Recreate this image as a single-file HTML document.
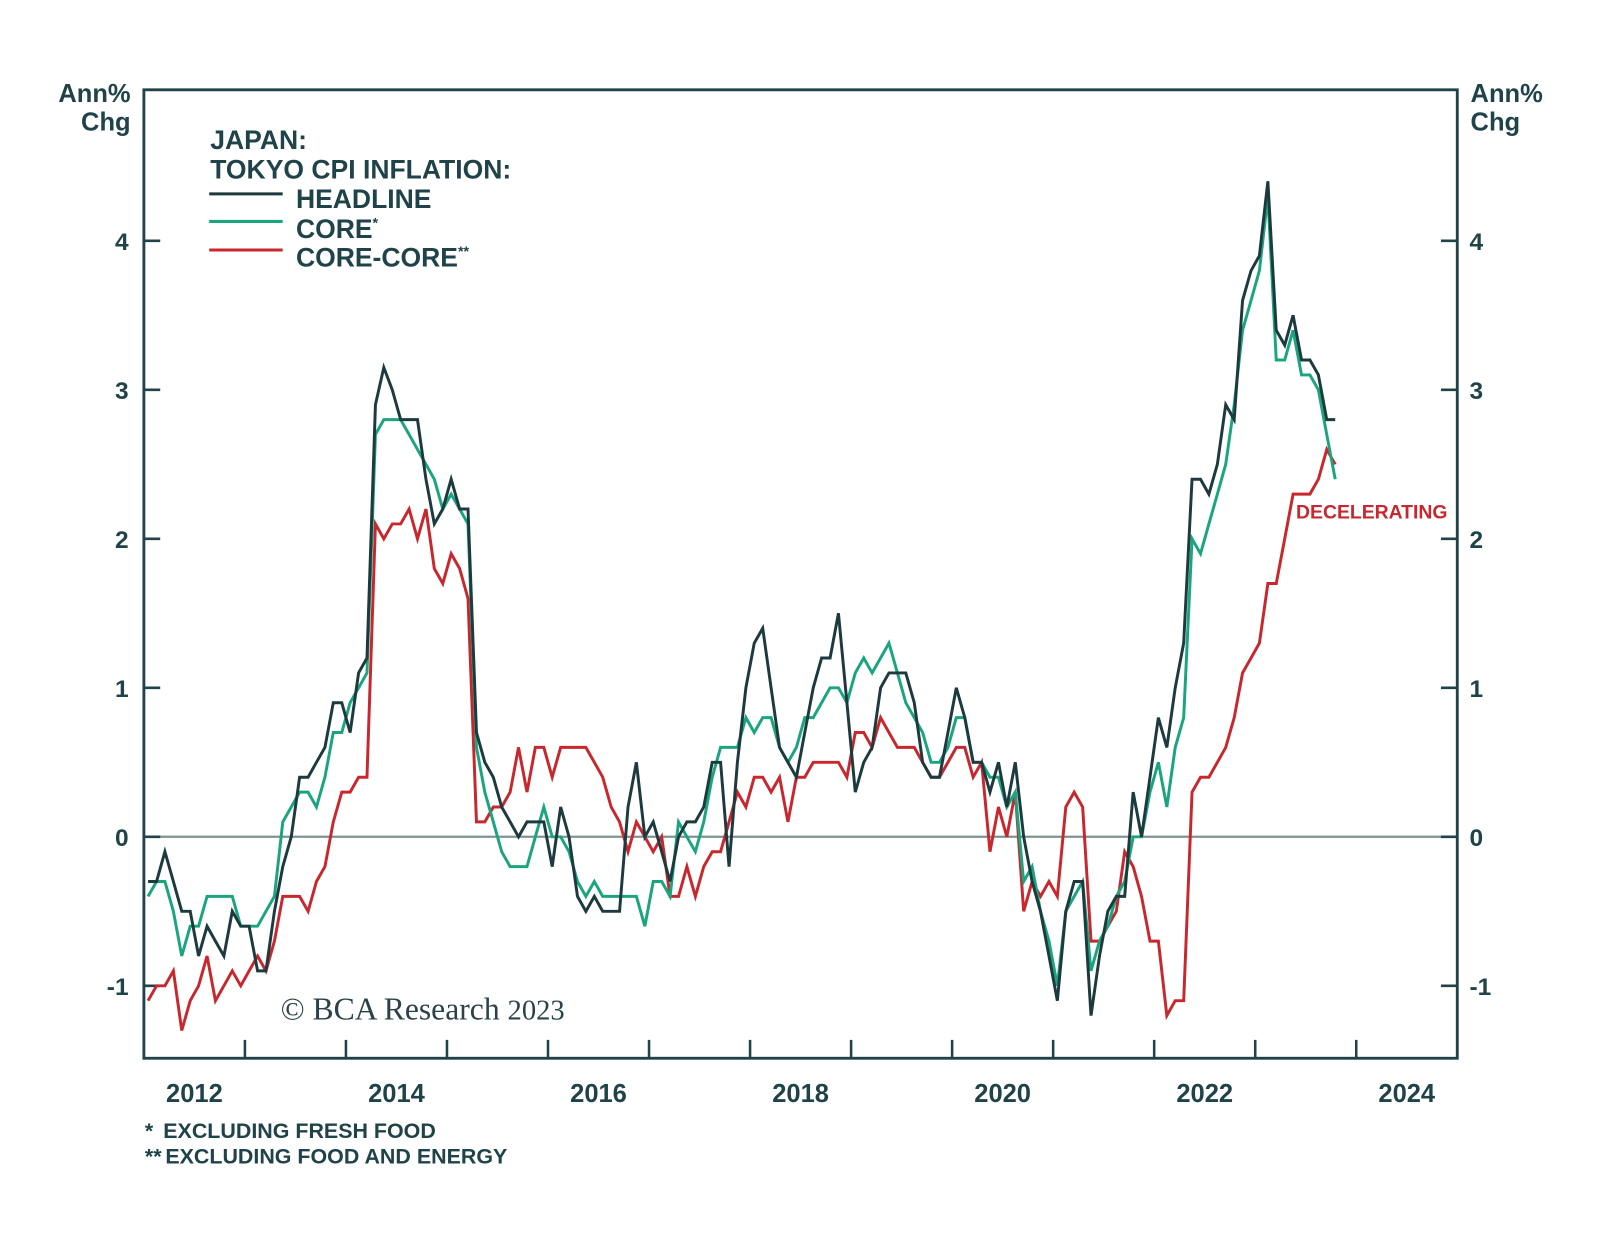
<!DOCTYPE html>
<html><head><meta charset="utf-8"><style>
html,body{margin:0;padding:0;background:#fff;}
svg{display:block;font-family:"Liberation Sans",sans-serif;}
</style></head><body>
<svg id="chart" width="1600" height="1237" viewBox="0 0 1600 1237" xmlns="http://www.w3.org/2000/svg">
<g transform="scale(1.0205)">
<g id="axes"></g>
<g id="series"></g>
<g id="labels" font-weight="bold" fill="#1f4349">
  <text x="128" y="100" font-size="25" text-anchor="end">Ann%</text>
  <text x="128" y="128" font-size="25" text-anchor="end">Chg</text>
  <text x="1441" y="100" font-size="25">Ann%</text>
  <text x="1441" y="128" font-size="25">Chg</text>
  <text x="206" y="146" font-size="26">JAPAN:</text>
  <text x="206" y="175" font-size="26">TOKYO CPI INFLATION:</text>
  <line x1="205" y1="190" x2="277" y2="190" stroke="#1d3a3f" stroke-width="3"/>
  <text x="290" y="204" font-size="26">HEADLINE</text>
  <line x1="205" y1="217" x2="277" y2="217" stroke="#1aa57f" stroke-width="3"/>
  <text x="290" y="233" font-size="26">CORE<tspan font-size="14" dy="-10">*</tspan></text>
  <line x1="205" y1="245" x2="277" y2="245" stroke="#c8282d" stroke-width="3"/>
  <text x="290" y="261" font-size="26">CORE-CORE<tspan font-size="14" dy="-10">**</tspan></text>
  <text x="1270" y="508" font-size="19" fill="#c8282d">DECELERATING</text>
  <text x="142" y="1115" font-size="21">* <tspan x="160">EXCLUDING FRESH FOOD</tspan></text>
  <text x="142" y="1140" font-size="21">** <tspan x="162">EXCLUDING FOOD AND ENERGY</tspan></text>
  <text x="275" y="999" font-size="31" font-weight="normal" font-family="Liberation Serif, serif" fill="#2a4248">© BCA Research <tspan font-size="28">2023</tspan></text>
</g>
</g>
</svg>
<script>
const yTicks = [-1, 0, 1, 2, 3, 4];
const yearLabels = [2012, 2014, 2016, 2018, 2020, 2022, 2024];
const headline = [-0.3,-0.3,-0.1,-0.3,-0.5,-0.5,-0.8,-0.6,-0.7,-0.8,-0.5,-0.6,
-0.6,-0.9,-0.9,-0.5,-0.2,0.0,0.4,0.4,0.5,0.6,0.9,0.9,
0.7,1.1,1.2,2.9,3.15,3.0,2.8,2.8,2.8,2.4,2.1,2.2,
2.4,2.2,2.2,0.7,0.5,0.4,0.2,0.1,0.0,0.1,0.1,0.1,
-0.2,0.2,0.0,-0.4,-0.5,-0.4,-0.5,-0.5,-0.5,0.2,0.5,0.0,
0.1,-0.1,-0.3,0.0,0.1,0.1,0.2,0.5,0.5,-0.2,0.5,1.0,
1.3,1.4,1.0,0.6,0.5,0.4,0.7,1.0,1.2,1.2,1.5,0.9,
0.3,0.5,0.6,1.0,1.1,1.1,1.1,0.9,0.5,0.4,0.4,0.7,
1.0,0.8,0.5,0.5,0.3,0.5,0.2,0.5,0.0,-0.3,-0.5,-0.8,
-1.1,-0.5,-0.3,-0.3,-1.2,-0.8,-0.5,-0.4,-0.4,0.3,0.0,0.4,
0.8,0.6,1.0,1.3,2.4,2.4,2.3,2.5,2.9,2.8,3.6,3.8,
3.9,4.4,3.4,3.3,3.5,3.2,3.2,3.1,2.8,2.8];
const core = [-0.4,-0.3,-0.3,-0.5,-0.8,-0.6,-0.6,-0.4,-0.4,-0.4,-0.4,-0.6,
-0.6,-0.6,-0.5,-0.4,0.1,0.2,0.3,0.3,0.2,0.4,0.7,0.7,
0.9,1.0,1.1,2.7,2.8,2.8,2.8,2.7,2.6,2.5,2.4,2.2,
2.3,2.2,2.1,0.6,0.3,0.1,-0.1,-0.2,-0.2,-0.2,0.0,0.2,
0.0,0.0,-0.1,-0.3,-0.4,-0.3,-0.4,-0.4,-0.4,-0.4,-0.4,-0.6,
-0.3,-0.3,-0.4,0.1,0.0,-0.1,0.1,0.4,0.6,0.6,0.6,0.8,
0.7,0.8,0.8,0.6,0.5,0.6,0.8,0.8,0.9,1.0,1.0,0.9,
1.1,1.2,1.1,1.2,1.3,1.1,0.9,0.8,0.7,0.5,0.5,0.6,
0.8,0.8,0.5,0.5,0.4,0.4,0.2,0.3,-0.3,-0.2,-0.5,-0.7,
-1.0,-0.5,-0.4,-0.3,-0.9,-0.7,-0.6,-0.4,-0.3,0.0,0.0,0.3,
0.5,0.2,0.6,0.8,2.0,1.9,2.1,2.3,2.5,2.9,3.4,3.6,
3.8,4.3,3.2,3.2,3.4,3.1,3.1,3.0,2.7,2.4];
const coreCore = [-1.1,-1.0,-1.0,-0.9,-1.3,-1.1,-1.0,-0.8,-1.1,-1.0,-0.9,-1.0,
-0.9,-0.8,-0.9,-0.7,-0.4,-0.4,-0.4,-0.5,-0.3,-0.2,0.1,0.3,
0.3,0.4,0.4,2.1,2.0,2.1,2.1,2.2,2.0,2.2,1.8,1.7,
1.9,1.8,1.6,0.1,0.1,0.2,0.2,0.3,0.6,0.3,0.6,0.6,
0.4,0.6,0.6,0.6,0.6,0.5,0.4,0.2,0.1,-0.1,0.1,0.0,
-0.1,0.0,-0.4,-0.4,-0.2,-0.4,-0.2,-0.1,-0.1,0.1,0.3,0.2,
0.4,0.4,0.3,0.4,0.1,0.4,0.4,0.5,0.5,0.5,0.5,0.4,
0.7,0.7,0.6,0.8,0.7,0.6,0.6,0.6,0.5,0.4,0.4,0.5,
0.6,0.6,0.4,0.5,-0.1,0.2,0.0,0.3,-0.5,-0.3,-0.4,-0.3,
-0.4,0.2,0.3,0.2,-0.7,-0.7,-0.6,-0.5,-0.1,-0.2,-0.4,-0.7,
-0.7,-1.2,-1.1,-1.1,0.3,0.4,0.4,0.5,0.6,0.8,1.1,1.2,
1.3,1.7,1.7,2.0,2.3,2.3,2.3,2.4,2.6,2.5];

const NS = 'http://www.w3.org/2000/svg';
const L = 141, R = 1428, T = 88, B = 1037;
function yScale(v){ return 820 - v * 146; }
function xYear(t){ return L + (t - 2012) * 99; }
function xMonth(i){ return xYear(2012 + (i + 0.5) / 12); }
function mk(tag, attrs, parent){
  const el = document.createElementNS(NS, tag);
  for (const k in attrs) el.setAttribute(k, attrs[k]);
  parent.appendChild(el);
  return el;
}
const axes = document.getElementById('axes');
const C = '#1f4349';
const zl = mk('line', {x1:L, x2:R, y1:yScale(0), y2:yScale(0), stroke:'#7f9393', 'stroke-width':2.2}, axes);


const frame = mk('rect', {x:L, y:T, width:R-L, height:B-T, fill:'none', stroke:C, 'stroke-width':2.8}, axes);


yTicks.forEach(v => {
  const y = yScale(v);
  const t1 = mk('line', {x1:L, x2:L+16, y1:y, y2:y, stroke:C, 'stroke-width':2.5}, axes);
  
  
  const t2 = mk('line', {x1:R-16, x2:R, y1:y, y2:y, stroke:C, 'stroke-width':2.5}, axes);
  
  
  const a = mk('text', {x:126, y:y+9, 'font-size':24, 'font-weight':'bold', fill:C, 'text-anchor':'end'}, axes);
  a.textContent = v;
  
  
  const b = mk('text', {x:1440, y:y+9, 'font-size':24, 'font-weight':'bold', fill:C}, axes);
  b.textContent = v;
  
  
});
for (let yr = 2013; yr <= 2024; yr++) {
  const x = xYear(yr);
  const tk = mk('line', {x1:x, x2:x, y1:B-18, y2:B, stroke:C, 'stroke-width':2.5}, axes);
  
  
}
yearLabels.forEach(yr => {
  const t = mk('text', {x:xYear(yr + 0.5), y:1080, 'font-size':25, 'font-weight':'bold', fill:C, 'text-anchor':'middle'}, axes);
  t.textContent = yr;
  
  
});
const seriesG = document.getElementById('series');
function draw(data, color, name){
  const pts = data.map((v, i) => xMonth(i).toFixed(1) + ',' + yScale(v).toFixed(1)).join(' ');
  const p = mk('polyline', {points:pts, fill:'none', stroke:color, 'stroke-width':2.9, 'stroke-linejoin':'miter'}, seriesG);
  
  
}
draw(coreCore, '#c8282d', 'core-core-line');
draw(core, '#1aa57f', 'core-line');
draw(headline, '#1d3a3f', 'headline-line');
</script>
</body></html>
